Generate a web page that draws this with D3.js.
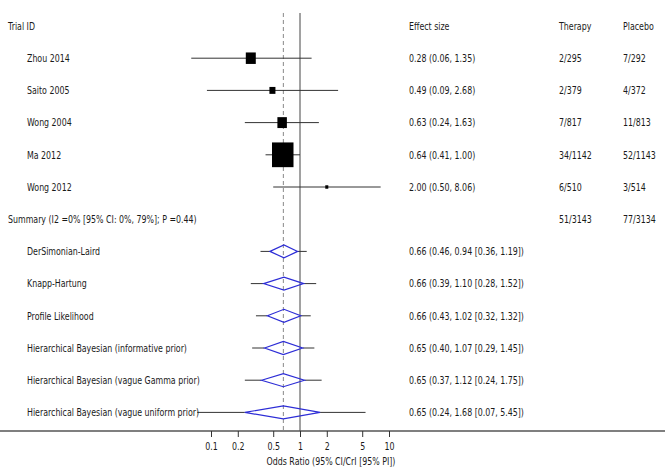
<!DOCTYPE html>
<html>
<head>
<meta charset="utf-8">
<script src="https://cdn.jsdelivr.net/npm/d3@7"></script>
<style>
  body { margin: 0; background: #fff; }
  text { font-family: "DejaVu Sans", sans-serif; font-size: 10.8px; fill: #1a1a1a; }
</style>
</head>
<body>
<div id="forest"></div>
<script>
const studies = ["Zhou 2014", "Saito 2005", "Wong 2004", "Ma 2012", "Wong 2012"];
const studyOR = [0.28, 0.49, 0.63, 0.64, 2.00];
const studyLo = [0.06, 0.09, 0.24, 0.41, 0.50];
const studyHi = [1.35, 2.68, 1.63, 1.00, 8.06];
const studyWeight = [14.3, 5.2, 12.9, 66.3, 1.3];
const therapy = ["2/295", "2/379", "7/817", "34/1142", "6/510"];
const placebo = ["7/292", "4/372", "11/813", "52/1143", "3/514"];

const summaryLabel = "Summary (I2 =0% [95% CI: 0%, 79%]; P =0.44)";
const therapyTotal = "51/3143";
const placeboTotal = "77/3134";

const methods = [
  "DerSimonian-Laird",
  "Knapp-Hartung",
  "Profile Likelihood",
  "Hierarchical Bayesian (informative prior)",
  "Hierarchical Bayesian (vague Gamma prior)",
  "Hierarchical Bayesian (vague uniform prior)"
];
const methodOR = [0.66, 0.66, 0.66, 0.65, 0.65, 0.65];
const methodLo = [0.46, 0.39, 0.43, 0.40, 0.37, 0.24];
const methodHi = [0.94, 1.10, 1.02, 1.07, 1.12, 1.68];
const piLo = [0.36, 0.28, 0.32, 0.29, 0.24, 0.07];
const piHi = [1.19, 1.52, 1.32, 1.45, 1.75, 5.45];

const pooledOR = 0.65;
const tickValues = [0.1, 0.2, 0.5, 1, 2, 5, 10];
const axisTitle = "Odds Ratio (95% CI/CrI [95% PI])";

const width = 665, height = 470;
const axisY = 431;
const squeeze = 0.73; // the reference uses a narrow face
const fmt = d3.format(".2f");

const svg = d3.select("#forest")
  .append("svg")
  .attr("width", width)
  .attr("height", height);

const x = d3.scaleLog().domain([0.1, 10]).range([211, 389]);
// row 0 = header, 1-5 studies, 6 summary, 7-12 methods
const y = d3.scaleLinear().domain([0, 12]).range([26, 412.4]);
const side = d3.scaleSqrt().domain([0, d3.max(studyWeight)]).range([0, 21.5]);

// narrow text: x is divided so the scaled glyphs land at the wanted spot
function label(sel, xPos) {
  return sel.append("text")
    .attr("x", xPos / squeeze)
    .attr("transform", `scale(${squeeze},1)`)
    .attr("dy", "0.35em");
}

// reference lines
svg.append("line")
  .attr("x1", x(pooledOR)).attr("x2", x(pooledOR))
  .attr("y1", 13).attr("y2", axisY)
  .style("stroke", "#888")
  .style("stroke-dasharray", "4,3");

svg.append("line")
  .attr("x1", x(1)).attr("x2", x(1))
  .attr("y1", 13).attr("y2", axisY)
  .style("stroke", "#444");

// headers
const header = [["Trial ID", 8], ["Effect size", 409], ["Therapy", 559], ["Placebo", 623]];
header.forEach(h => label(svg, h[1]).attr("y", y(0)).text(h[0]));

// studies
const st = studies.map((s, i) => ({
  name: s, or: studyOR[i], lo: studyLo[i], hi: studyHi[i],
  w: studyWeight[i], t: therapy[i], p: placebo[i], row: i + 1
}));

const g = svg.selectAll(".study")
  .data(st)
  .enter()
  .append("g");

g.append("line")
  .attr("x1", d => x(d.lo)).attr("x2", d => x(d.hi))
  .attr("y1", d => y(d.row)).attr("y2", d => y(d.row))
  .style("stroke", "#333");

g.append("rect")
  .attr("x", d => x(d.or) - side(d.w) / 2)
  .attr("y", d => y(d.row) - side(d.w) * 1.15 / 2)
  .attr("width", d => side(d.w))
  .attr("height", d => side(d.w) * 1.15)
  .style("fill", "#000");

label(g, 27).attr("y", d => y(d.row)).text(d => d.name);
label(g, 409).attr("y", d => y(d.row)).text(d => `${fmt(d.or)} (${fmt(d.lo)}, ${fmt(d.hi)})`);
label(g, 559).attr("y", d => y(d.row)).text(d => d.t);
label(g, 623).attr("y", d => y(d.row)).text(d => d.p);

// summary row
label(svg, 8).attr("y", y(6)).text(summaryLabel);
label(svg, 559).attr("y", y(6)).text(therapyTotal);
label(svg, 623).attr("y", y(6)).text(placeboTotal);

// pooled methods
const md = methods.map((m, i) => ({
  name: m, or: methodOR[i], lo: methodLo[i], hi: methodHi[i],
  plo: piLo[i], phi: piHi[i], row: i + 7
}));

const mg = svg.selectAll(".method")
  .data(md)
  .enter()
  .append("g");

mg.append("line")
  .attr("x1", d => x(d.plo)).attr("x2", d => x(d.lo))
  .attr("y1", d => y(d.row)).attr("y2", d => y(d.row))
  .style("stroke", "#333");

mg.append("line")
  .attr("x1", d => x(d.hi)).attr("x2", d => x(d.phi))
  .attr("y1", d => y(d.row)).attr("y2", d => y(d.row))
  .style("stroke", "#333");

mg.append("polygon")
  .attr("points", d => {
    const cy = y(d.row);
    return [[x(d.lo), cy], [x(d.or), cy - 6.5], [x(d.hi), cy], [x(d.or), cy + 6.5]].join(" ");
  })
  .style("fill", "none")
  .style("stroke", "#2d2dd6")
  .style("stroke-width", 1.2);

label(mg, 27).attr("y", d => y(d.row)).text(d => d.name);
label(mg, 409).attr("y", d => y(d.row))
  .text(d => `${fmt(d.or)} (${fmt(d.lo)}, ${fmt(d.hi)} [${fmt(d.plo)}, ${fmt(d.phi)}])`);

// axis
svg.append("line")
  .attr("x1", 0).attr("x2", width)
  .attr("y1", axisY).attr("y2", axisY)
  .style("stroke", "#555")
  .style("stroke-width", 1.5);

const xAxis = d3.axisBottom(x).tickValues(tickValues).tickFormat(d => String(d)).tickSize(6).tickPadding(5);
const ax = svg.append("g")
  .attr("transform", `translate(0, ${axisY})`)
  .call(xAxis);
ax.select(".domain").remove();
ax.selectAll(".tick line").style("stroke", "#333");
ax.selectAll(".tick text")
  .attr("transform", `scale(${squeeze},1)`)
  .style("font-family", "DejaVu Sans, sans-serif")
  .style("font-size", "10.8px")
  .style("fill", "#1a1a1a");

label(svg, 331)
  .attr("y", 461)
  .style("text-anchor", "middle")
  .text(axisTitle);
</script>
</body>
</html>
